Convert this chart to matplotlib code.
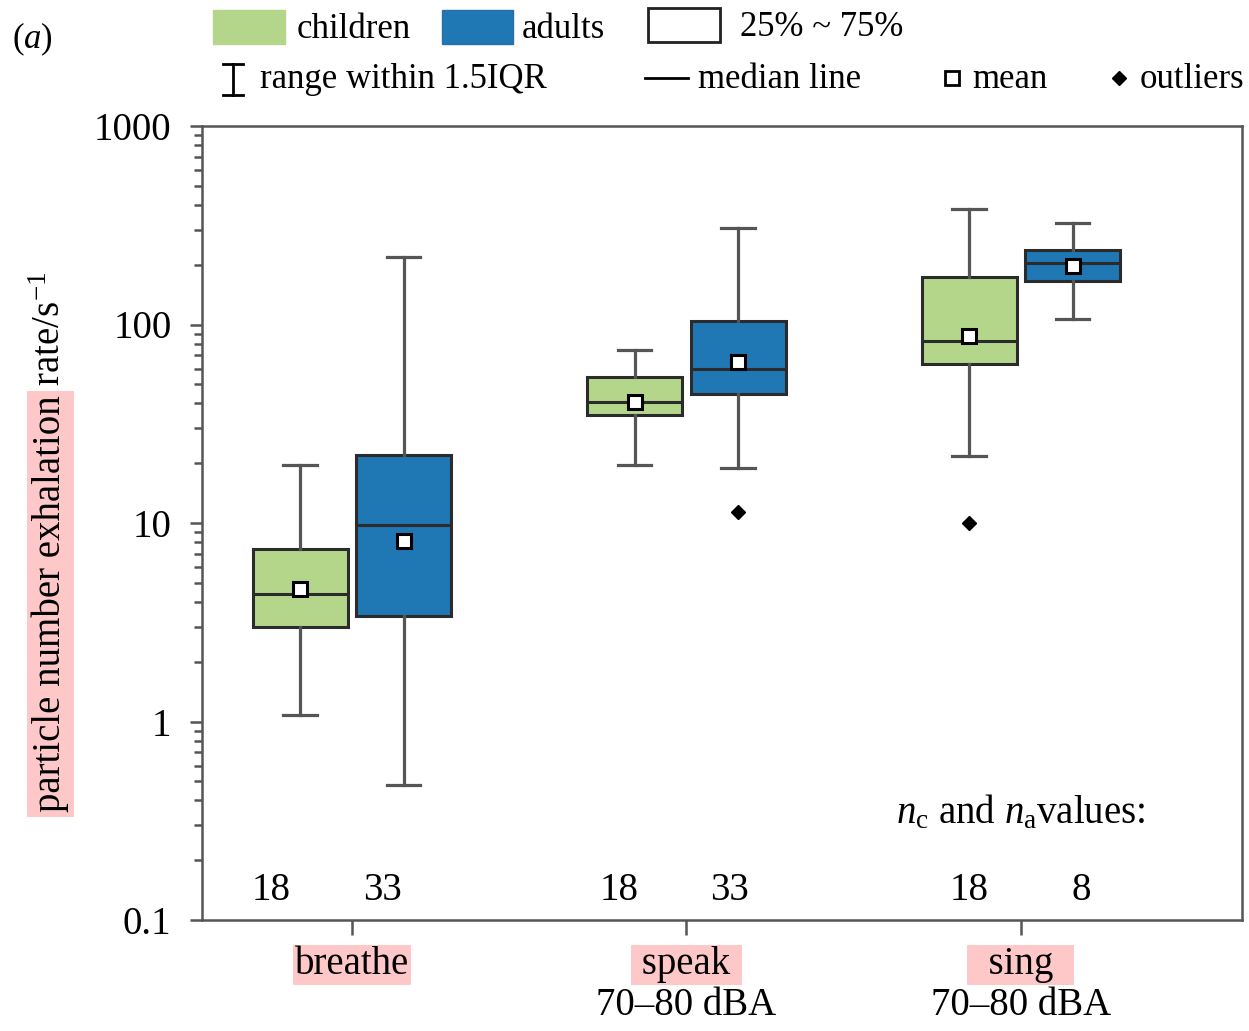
import matplotlib
matplotlib.use('Agg')
import matplotlib.pyplot as plt
from matplotlib.lines import Line2D
from matplotlib.patches import Rectangle
import matplotlib.transforms as mtransforms
from matplotlib.ticker import LogLocator, NullFormatter

plt.rcParams['font.family'] = ['Liberation Serif', 'DejaVu Serif']
plt.rcParams['mathtext.fontset'] = 'custom'
plt.rcParams['mathtext.rm'] = 'Liberation Serif'
plt.rcParams['mathtext.it'] = 'Liberation Serif:italic'
plt.rcParams['mathtext.bf'] = 'Liberation Serif:bold'

# ---------------- data ----------------
categories = ['breathe', ' speak ', '  sing  ']
sublabels = ['', '70–80 dBA', '70–80 dBA']

children_q1 = [2.98, 35.1, 63.4]
children_med = [4.38, 40.9, 83.0]
children_q3 = [7.36, 54.5, 174.0]
children_lo = [1.08, 19.7, 21.7]
children_hi = [19.5, 74.8, 383.0]
children_mean = [4.64, 40.5, 87.3]
children_out = [[], [], [10.0]]

adults_q1 = [3.39, 44.9, 165.0]
adults_med = [9.77, 59.8, 203.0]
adults_q3 = [21.9, 104.0, 237.0]
adults_lo = [0.476, 19.0, 106.0]
adults_hi = [218.0, 307.0, 325.0]
adults_mean = [8.16, 64.6, 197.0]
adults_out = [[], [11.3], []]

n_children = [18, 18, 18]
n_adults = [33, 33, 8]

yticks = [0.1, 1, 10, 100, 1000]
yticklabels = ['0.1', '1', '10', '100', '1000']

# ---------------- style ----------------
GREEN = '#b3d68b'
BLUE = '#1f77b4'
PINK = '#ffc8c8'
EDGE = '#2b2b2b'
WHISK = '#555555'

W, H = 1249, 1031
fig = plt.figure(figsize=(W / 100, H / 100), dpi=100)
ax = fig.add_axes([202 / W, 1 - 920 / H, (1242 - 202) / W, (920 - 126) / H])


def fx(x):
    return x / W


def fy(y):
    return 1 - y / H


def make_stats(q1, med, q3, lo, hi, mean, out):
    return [dict(q1=a, med=b, q3=c, whislo=d, whishi=e, mean=f, fliers=g)
            for a, b, c, d, e, f, g in zip(q1, med, q3, lo, hi, mean, out)]


offset = 0.155
bw = 0.284
common = dict(widths=bw, patch_artist=True, showmeans=True, showfliers=True,
              capwidths=0.1, manage_ticks=False,
              whiskerprops=dict(color=WHISK, lw=2.3),
              capprops=dict(color=WHISK, lw=2.3),
              medianprops=dict(color=EDGE, lw=2.2),
              meanprops=dict(marker='s', markerfacecolor='white',
                             markeredgecolor='black', markersize=10.5, markeredgewidth=2.2),
              flierprops=dict(marker='D', markerfacecolor='black',
                              markeredgecolor='black', markersize=7.5))

pos = list(range(len(categories)))
for stats, color, sgn in [
        (make_stats(children_q1, children_med, children_q3, children_lo,
                    children_hi, children_mean, children_out), GREEN, -1),
        (make_stats(adults_q1, adults_med, adults_q3, adults_lo,
                    adults_hi, adults_mean, adults_out), BLUE, 1)]:
    ax.bxp(stats, positions=[p + sgn * offset for p in pos],
           boxprops=dict(facecolor=color, edgecolor=EDGE, lw=2.2), **common)

ax.set_yscale('log')
ax.set_ylim(0.1, 1000)
ax.set_xlim(-0.448, 2.661)
ax.set_yticks(yticks)
ax.set_yticklabels(yticklabels)
ax.yaxis.set_minor_locator(LogLocator(base=10, subs=range(2, 10), numticks=20))
ax.yaxis.set_minor_formatter(NullFormatter())
ax.tick_params(axis='y', which='major', length=9, width=1.8, color=WHISK,
               direction='out', pad=13, labelsize=28)
ax.tick_params(axis='y', which='minor', length=6, width=1.8, color=WHISK,
               direction='out')
ax.set_xticks(pos)
ax.set_xticklabels(categories)
ax.tick_params(axis='x', which='major', length=11, width=1.8, color=WHISK,
               direction='out', pad=8, labelsize=28)
for lab in ax.get_xticklabels():
    lab.set_bbox(dict(facecolor=PINK, edgecolor='none', boxstyle='square,pad=0.04'))
for s in ax.spines.values():
    s.set_color(WHISK)
    s.set_linewidth(1.8)

# second line of category labels
for p, sub in zip(pos, sublabels):
    if sub:
        ax.annotate(sub, xy=(p, 0), xycoords=('data', 'axes fraction'),
                    xytext=(0, -48.5), textcoords='offset points',
                    ha='center', va='top', fontsize=28)

# sample size labels
n_label_x = [-0.24, 0.09, 0.80, 1.13, 1.845, 2.18]
n_vals = []
for c, a in zip(n_children, n_adults):
    n_vals += [c, a]
btrans = mtransforms.blended_transform_factory(ax.transData, ax.transAxes)
for xv, nv in zip(n_label_x, n_vals):
    ax.text(xv, 0.0250, str(nv), transform=btrans, ha='center',
            va='baseline', fontsize=28)
ax.text(2, 0.1220, r'$\mathit{n}_{\mathrm{c}}$ and $\mathit{n}_{\mathrm{a}}$values:',
        transform=btrans, ha='center', va='baseline', fontsize=28)

# y label (two parts, first highlighted)
t1 = fig.text(fx(60), fy(812), 'particle number exhalation', rotation=90,
              rotation_mode='anchor', ha='left', va='baseline', fontsize=28,
              bbox=dict(facecolor=PINK, edgecolor='none', boxstyle='square,pad=0.12'))
ax.annotate(' rate/s$^{-1}$', xy=(fx(60), 1.0), xycoords=('figure fraction', t1),
            rotation=90, rotation_mode='anchor', ha='left', va='baseline',
            fontsize=28, annotation_clip=False)

# panel label
fig.text(fx(12), fy(39), r'($\mathit{a}$)', ha='left', va='center', fontsize=25)

# ---------------- legend (manual) ----------------
LFS = 25


def frect(x0, y0, x1, y1, **kw):
    fig.add_artist(Rectangle((fx(x0), fy(y1)), fx(x1) - fx(x0), fy(y0) - fy(y1),
                             transform=fig.transFigure, **kw))


def fline(xs, ys, **kw):
    fig.add_artist(Line2D([fx(x) for x in xs], [fy(y) for y in ys],
                          transform=fig.transFigure, **kw))


frect(213, 10, 285, 44, facecolor=GREEN, edgecolor=GREEN, lw=1)
fig.text(fx(297), fy(29), 'children', ha='left', va='center', fontsize=LFS)
frect(442, 10, 513, 44, facecolor=BLUE, edgecolor='#2a6fa8', lw=1)
fig.text(fx(522), fy(29), 'adults', ha='left', va='center', fontsize=LFS)
frect(648, 8, 720, 42, facecolor='white', edgecolor='#222222', lw=2.0)
fig.text(fx(740), fy(27), '25% ~ 75%', ha='left', va='center', fontsize=LFS)

fline([233, 233], [64, 95], color='black', lw=2.0)
fline([223, 243], [64, 64], color='black', lw=2.0)
fline([223, 243], [95, 95], color='black', lw=2.0)
fig.text(fx(260), fy(80), 'range within 1.5IQR', ha='left', va='center', fontsize=LFS)
fline([645, 688], [78, 78], color='black', lw=2.0)
fig.text(fx(698), fy(80), 'median line', ha='left', va='center', fontsize=LFS)
fline([952], [78], marker='s', markersize=10, markerfacecolor='white',
      markeredgecolor='black', markeredgewidth=2.0, lw=0)
fig.text(fx(972), fy(80), 'mean', ha='left', va='center', fontsize=LFS)
fline([1119], [78], marker='D', markersize=7, color='black', lw=0)
fig.text(fx(1140), fy(80), 'outliers', ha='left', va='center', fontsize=LFS)

fig.savefig('out.png', dpi=100)
